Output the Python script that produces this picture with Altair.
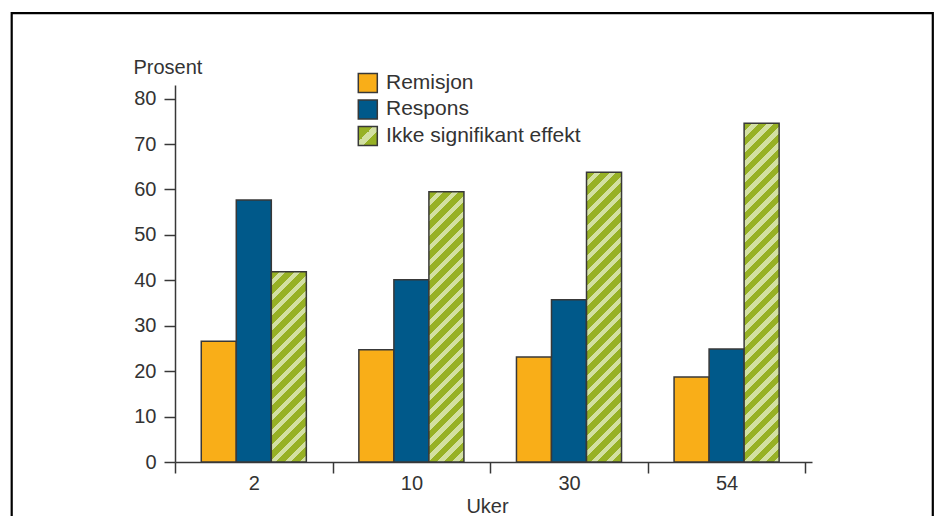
import math
import altair as alt
import pandas as pd

# ---- data ----
weeks = ["2", "10", "30", "54"]
series = ["Remisjon", "Respons", "Ikke signifikant effekt"]
remisjon = [26.6, 24.7, 23.1, 18.7]
respons = [57.7, 40.1, 35.7, 24.9]
ikke_signifikant = [41.9, 59.5, 63.8, 74.6]
y_ticks = [0, 10, 20, 30, 40, 50, 60, 70, 80]

# ---- styling ----
colors = ["#f9ae18", "#00598a", "#97b125"]
light_green = "#d3e0a2"
edge = "#383838"
text_color = "#333333"
FONT = "Liberation Sans"
FS = 20
FS_LEG = 21

W, H = 637, 377
YMAX = 83
STEP = 157.6                       # width of one week's band
PAD_OUT = (W - 4 * STEP) / (2 * STEP)

rows = []
for i, wk in enumerate(weeks):
    for s, vals in zip(series, [remisjon, respons, ikke_signifikant]):
        rows.append({"uke": wk, "serie": s, "prosent": vals[i]})
df = pd.DataFrame(rows)

bar_w = STEP / 4.5


def hatch(w, h, period=10.6, green_part=6.0, phase=0.0):
    """45-degree stripes as a linear gradient in bounding-box units."""
    k = (w + h) / (w * w + h * h)
    D = (w + h) / math.sqrt(2)
    stops = []
    n = -1
    while True:
        a = n * period + phase
        b = a + green_part
        c = a + period
        if a > D:
            break
        for off, col in [(a, colors[2]), (b, colors[2]), (b, light_green), (c, light_green)]:
            t = min(max(off / D, 0.0), 1.0)
            stops.append({"offset": round(t, 5), "color": col})
        n += 1
    return {"gradient": "linear", "x1": 0, "y1": 0,
            "x2": round(w * k, 6), "y2": round(h * k, 6), "stops": stops}


x_enc = alt.X("uke:N", sort=weeks,
              scale=alt.Scale(domain=weeks, paddingInner=0, paddingOuter=PAD_OUT, align=0),
              axis=alt.Axis(title="Uker", labelAngle=0, tickBand="extent", tickSize=11,
                            labelPadding=0, titleX=312, titleY=50, titleBaseline="alphabetic",
                            grid=False))
xo_enc = alt.XOffset("serie:N",
                     scale=alt.Scale(domain=series, paddingInner=0, paddingOuter=0.75))
y_enc = alt.Y("prosent:Q", scale=alt.Scale(domain=[0, YMAX], nice=False),
              axis=alt.Axis(values=y_ticks, title="Prosent", titleAngle=0, titleX=-42,
                            titleY=-11.5, titleAlign="left", titleBaseline="alphabetic",
                            tickSize=11, labelPadding=8, grid=False))

base = alt.Chart(df)

solid = base.transform_filter(alt.datum.serie != series[2]).mark_bar(
    stroke=edge, strokeWidth=1.5
).encode(
    x=x_enc, xOffset=xo_enc, y=y_enc,
    fill=alt.Fill("serie:N", scale=alt.Scale(domain=series, range=colors), legend=None),
)

layers = [solid]
for i, wk in enumerate(weeks):
    h = ikke_signifikant[i] * H / YMAX
    layers.append(
        base.transform_filter((alt.datum.serie == series[2]) & (alt.datum.uke == wk))
        .mark_bar(fill=hatch(bar_w, h), stroke=edge, strokeWidth=1.5)
        .encode(x=x_enc, xOffset=xo_enc, y=y_enc)
    )

one = alt.Chart(pd.DataFrame({"k": [0]}))

# legend
leg_x0, leg_size, leg_top, leg_step = 183.3, 19, -11.5, 26.5
legend_fills = [colors[0], colors[1],
                {"gradient": "linear", "x1": 0, "y1": 0, "x2": 1, "y2": 1,
                 "stops": [{"offset": 0, "color": colors[2]},
                           {"offset": 0.40, "color": colors[2]},
                           {"offset": 0.40, "color": light_green},
                           {"offset": 0.62, "color": light_green},
                           {"offset": 0.62, "color": colors[2]},
                           {"offset": 1, "color": colors[2]}]}]
for j, name in enumerate(series):
    top = leg_top + j * leg_step
    layers.append(
        one.mark_rect(fill=legend_fills[j], stroke=edge, strokeWidth=1.5).encode(
            x=alt.value(leg_x0), x2=alt.value(leg_x0 + leg_size),
            y=alt.value(top), y2=alt.value(top + leg_size))
    )
    layers.append(
        one.mark_text(align="left", baseline="middle", font=FONT, fontSize=FS_LEG,
                      color=text_color).encode(
            x=alt.value(211), y=alt.value(top + leg_size / 2 - 0.5),
            text=alt.value(name))
    )

# outer frame
layers.append(
    one.mark_rect(filled=False, stroke="black", strokeWidth=2.2).encode(
        x=alt.value(11.7 - 175), x2=alt.value(932.8 - 175),
        y=alt.value(13.2 - 85), y2=alt.value(560 - 85))
)

chart = alt.layer(*layers).properties(
    width=W, height=H,
    autosize=alt.AutoSizeParams(type="none"),
    padding={"left": 175, "top": 85, "right": 939 - 175 - W, "bottom": 516 - 85 - H},
    background="white",
).configure_view(strokeWidth=0).configure_axis(
    labelFont=FONT, labelFontSize=FS, labelColor=text_color,
    titleFont=FONT, titleFontSize=FS, titleFontWeight="normal", titleColor=text_color,
    domainColor=edge, domainWidth=1.5, tickColor=edge, tickWidth=1.5,
)

chart.save("out.html", embed_options={"renderer": "svg", "actions": False})
